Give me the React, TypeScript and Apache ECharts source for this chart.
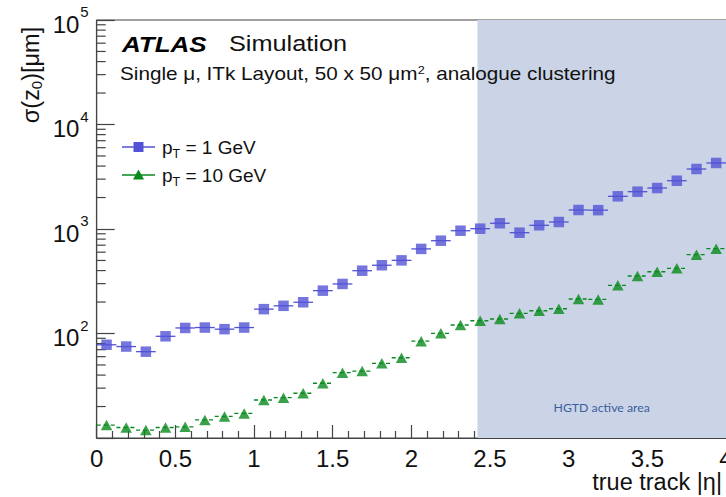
import React, { useEffect, useRef } from 'react';
import * as echarts from 'echarts';

// |eta| bin centres (32 bins of width 0.125 between 0 and 4)
const etaCenters = [
  0.0625, 0.1875, 0.3125, 0.4375, 0.5625, 0.6875, 0.8125, 0.9375,
  1.0625, 1.1875, 1.3125, 1.4375, 1.5625, 1.6875, 1.8125, 1.9375,
  2.0625, 2.1875, 2.3125, 2.4375, 2.5625, 2.6875, 2.8125, 2.9375,
  3.0625, 3.1875, 3.3125, 3.4375, 3.5625, 3.6875, 3.8125, 3.9375,
];
const binHalfWidth = 0.0625;

// sigma(z0) [um], pT = 1 GeV
const sigmaPt1 = [
  78, 75, 67, 94, 113, 114, 110, 114,
  171, 184, 199, 257, 298, 399, 450, 501,
  645, 773, 963, 1007, 1135, 922, 1085, 1167,
  1520, 1515, 2055, 2275, 2467, 2897, 3750, 4285,
];
// sigma(z0) [um], pT = 10 GeV
const sigmaPt10 = [
  13.3, 12.6, 11.9, 12.6, 12.8, 14.9, 16.1, 17.2,
  23.1, 24.3, 26.8, 33.4, 42.2, 43.7, 51.8, 58.6,
  84.4, 100.4, 120.6, 132.5, 137.6, 156, 165, 172.6,
  213.8, 212, 289, 355, 390, 420, 568, 648,
];

const seriesNames = ['p_T = 1 GeV', 'p_T = 10 GeV'];
const yMajorTicks = [10, 100, 1000, 10000, 100000];
const yMinorTicks = [
  20, 30, 40, 50, 60, 70, 80, 90,
  200, 300, 400, 500, 600, 700, 800, 900,
  2000, 3000, 4000, 5000, 6000, 7000, 8000, 9000,
  20000, 30000, 40000, 50000, 60000, 70000, 80000, 90000,
];
const hgtdRange = [2.42, 4];
const hgtdLabel = 'HGTD active area';

const BLUE = '#5252d6';
const GREEN = '#078a1c';
const AXIS = '#444444';
const FONT = '"Liberation Sans", Arial, Helvetica, sans-serif';

export default function App() {
  const ref = useRef<HTMLDivElement>(null);

  useEffect(() => {
    if (!ref.current) return;
    const chart = echarts.init(ref.current, null, { renderer: 'svg' });

    const errBar = (color: string, dash: number[] | null) => (params: any, api: any) => {
      const x = api.value(0);
      const y = api.value(1);
      const p1 = api.coord([x - binHalfWidth, y]);
      const p2 = api.coord([x + binHalfWidth, y]);
      return {
        type: 'line',
        shape: { x1: p1[0], y1: p1[1], x2: p2[0], y2: p2[1] },
        style: { stroke: color, lineWidth: 1.3, lineDash: dash || undefined },
      };
    };

    const minorTickItem = (params: any, api: any) => {
      const p = api.coord([0, api.value(1)]);
      return {
        type: 'line',
        shape: { x1: p[0], y1: p[1], x2: p[0] + 9, y2: p[1] },
        style: { stroke: AXIS, lineWidth: 1.2 },
      };
    };

    const d1 = etaCenters.map((e, i) => [e, sigmaPt1[i]]);
    const d10 = etaCenters.map((e, i) => [e, sigmaPt10[i]]);

    const option: any = {
      animation: false,
      backgroundColor: '#ffffff',
      textStyle: { fontFamily: FONT },
      grid: {
        left: 96.7,
        top: 20,
        right: 0,
        bottom: 59,
        containLabel: false,
        outerBoundsMode: 'none',
        show: true,
        borderColor: AXIS,
        borderWidth: 1,
        backgroundColor: 'transparent',
      },
      xAxis: {
        type: 'value',
        min: 0,
        max: 4,
        interval: 0.5,
        name: 'true track |η|',
        nameLocation: 'end',
        nameGap: -4,
        nameTextStyle: {
          fontSize: 23.5,
          color: '#111',
          fontFamily: FONT,
          align: 'right',
          verticalAlign: 'top',
          padding: [32, 0, 0, 0],
        },
        axisLine: { lineStyle: { color: AXIS, width: 1.2 } },
        axisTick: { inside: true, length: 13, lineStyle: { color: AXIS, width: 1.2 } },
        minorTick: { show: true, splitNumber: 5, length: 7, lineStyle: { color: AXIS, width: 1.2 } },
        splitLine: { show: false },
        minorSplitLine: { show: false },
        axisLabel: {
          fontSize: 24,
          color: '#111',
          fontFamily: FONT,
          margin: 8,
          showMaxLabel: true,
          formatter: (v: number) => String(v),
        },
      },
      yAxis: {
        type: 'log',
        logBase: 10,
        min: 10,
        max: 100000,
        position: 'left',
        axisLine: { lineStyle: { color: AXIS, width: 1.2 } },
        axisTick: { inside: true, length: 18, customValues: yMajorTicks, lineStyle: { color: AXIS, width: 1.2 } },
        splitLine: { show: false },
        axisLabel: {
          customValues: yMajorTicks,
          margin: 8,
          color: '#111',
          formatter: (v: number) => {
            const e = Math.round(Math.log10(v));
            if (e === 1) return '';
            return `{b|10}{s|${e}}`;
          },
          rich: {
            b: { fontSize: 24, fontFamily: FONT, color: '#111', padding: [8, 0, 0, 0] },
            s: { fontSize: 15, fontFamily: FONT, color: '#111', verticalAlign: 'top', padding: [0, 0, 0, 1] },
          },
        },
      },
      series: [
        {
          type: 'line',
          name: 'hgtd',
          data: [],
          z: 0,
          silent: true,
          markArea: {
            silent: true,
            itemStyle: { color: '#cbd4e6' },
            label: {
              show: true,
              position: 'insideBottom',
              distance: 25,
              color: '#3a5d9e',
              fontSize: 12.3,
              fontFamily: 'Lato, "Open Sans", sans-serif',
              formatter: hgtdLabel,
            },
            data: [[{ xAxis: hgtdRange[0] }, { xAxis: hgtdRange[1] }]],
          },
        },
        {
          type: 'custom',
          name: 'y minor ticks',
          data: yMinorTicks.map((v) => [0, v]),
          z: 2,
          silent: true,
          clip: false,
          renderItem: minorTickItem,
        },
        {
          type: 'custom',
          name: seriesNames[0] + ' err',
          data: d1,
          z: 3,
          renderItem: errBar(BLUE, null),
        },
        {
          type: 'custom',
          name: seriesNames[1] + ' err',
          data: d10,
          z: 3,
          renderItem: errBar(GREEN, [4, 3]),
        },
        {
          type: 'scatter',
          name: seriesNames[0],
          data: d1,
          symbol: 'rect',
          symbolSize: 10.5,
          itemStyle: { color: BLUE },
          z: 5,
        },
        {
          type: 'scatter',
          name: seriesNames[1],
          data: d10,
          symbol: 'triangle',
          symbolSize: [11.5, 10.5],
          itemStyle: { color: GREEN },
          z: 5,
        },
      ],
      graphic: {
        elements: [
          // y-axis title
          {
            type: 'text',
            z: 100,
            x: 31,
            y: 75,
            rotation: Math.PI / 2,
            style: {
              text: 'σ(z{sub|0})[μm]',
              font: `23.5px ${FONT}`,
              fill: '#111',
              align: 'center',
              verticalAlign: 'middle',
              rich: {
                sub: { fontSize: 15, fontFamily: FONT, fill: '#111', padding: [10, 0, 0, 0] },
              },
            },
          },
          // ATLAS Simulation
          {
            type: 'text',
            z: 100,
            x: 122,
            y: 44,
            scaleX: 1.18,
            style: {
              text: 'ATLAS',
              font: `italic bold 22px ${FONT}`,
              fill: '#000',
              verticalAlign: 'middle',
            },
          },
          {
            type: 'text',
            z: 100,
            x: 229,
            y: 44,
            scaleX: 1.15,
            style: {
              text: 'Simulation',
              font: `22px ${FONT}`,
              fill: '#111',
              verticalAlign: 'middle',
            },
          },
          {
            type: 'text',
            z: 100,
            x: 120,
            y: 74,
            scaleX: 1.15,
            style: {
              text: '{a|Single μ, ITk Layout, 50 x 50 μm}{s|2}{a|, analogue clustering}',
              verticalAlign: 'middle',
              rich: {
                a: { fontSize: 18, fontFamily: FONT, fill: '#111' },
                s: { fontSize: 11, fontFamily: FONT, fill: '#111', verticalAlign: 'top' },
              },
            },
          },
          // legend: pT = 1 GeV
          {
            type: 'line',
            z: 100,
            shape: { x1: 122, y1: 147, x2: 155, y2: 147 },
            style: { stroke: BLUE, lineWidth: 1.3 },
          },
          {
            type: 'rect',
            z: 101,
            shape: { x: 133.5, y: 142, width: 10, height: 10 },
            style: { fill: BLUE },
          },
          {
            type: 'text',
            z: 100,
            x: 162,
            y: 147,
            style: {
              text: '{a|p}{sub|T}{a| = 1 GeV}',
              verticalAlign: 'middle',
              rich: {
                a: { fontSize: 19, fontFamily: FONT, fill: '#111' },
                sub: { fontSize: 12.5, fontFamily: FONT, fill: '#111', padding: [14, 0, 0, 0] },
              },
            },
          },
          // legend: pT = 10 GeV
          {
            type: 'line',
            z: 100,
            shape: { x1: 122, y1: 175, x2: 155, y2: 175 },
            style: { stroke: GREEN, lineWidth: 1.3 },
          },
          {
            type: 'polygon',
            z: 101,
            shape: { points: [[138.5, 169.5], [144, 179.5], [133, 179.5]] },
            style: { fill: GREEN },
          },
          {
            type: 'text',
            z: 100,
            x: 162,
            y: 175,
            style: {
              text: '{a|p}{sub|T}{a| = 10 GeV}',
              verticalAlign: 'middle',
              rich: {
                a: { fontSize: 19, fontFamily: FONT, fill: '#111' },
                sub: { fontSize: 12.5, fontFamily: FONT, fill: '#111', padding: [14, 0, 0, 0] },
              },
            },
          },
        ],
      },
    };

    chart.setOption(option);
    return () => chart.dispose();
  }, []);

  return (
    <div
      ref={ref}
      style={{ position: 'fixed', left: 0, top: 0, width: 726, height: 497, background: '#fff' }}
    />
  );
}
